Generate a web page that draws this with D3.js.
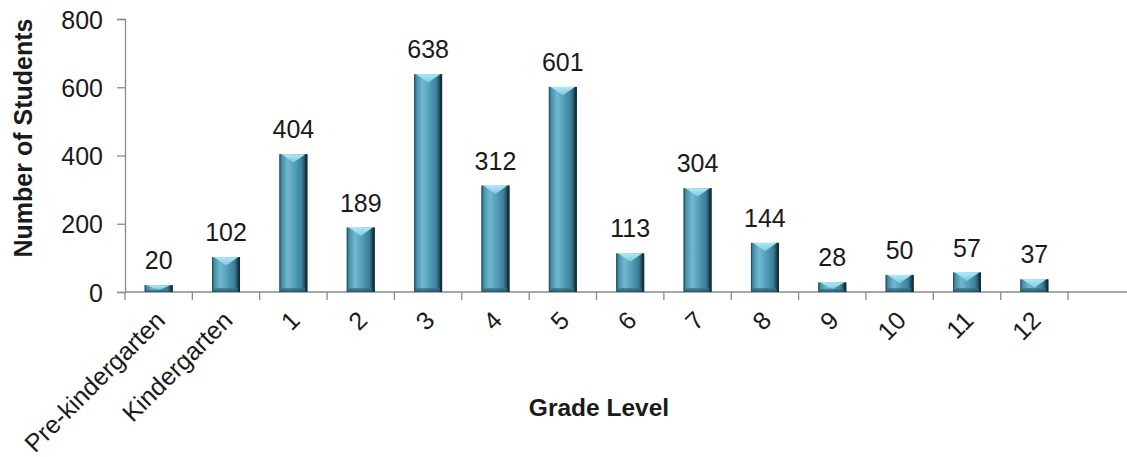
<!DOCTYPE html>
<html>
<head>
<meta charset="utf-8">
<script src="https://cdn.jsdelivr.net/npm/d3@7"></script>
<style>
  html, body { margin: 0; padding: 0; background: #fff; }
  svg { display: block; }
  text { font-family: "Liberation Sans", Arial, sans-serif; fill: #1a1a1a; }
</style>
</head>
<body>
<svg id="chart" width="1127" height="457"></svg>
<script>
const categories = ["Pre-kindergarten", "Kindergarten", "1", "2", "3", "4", "5", "6", "7", "8", "9", "10", "11", "12"];
const students = [20, 102, 404, 189, 638, 312, 601, 113, 304, 144, 28, 50, 57, 37];
const yTicks = [0, 200, 400, 600, 800];
const yTitle = "Number of Students";
const xTitle = "Grade Level";

const svg = d3.select("#chart");

const plotLeft = 125, step = 67.36, plotBottom = 292, plotTop = 19;
// an extra blank slot continues the axis to the right edge, as in the reference
const domain = categories.concat([""]);
const x = d3.scaleBand().domain(domain).range([plotLeft, plotLeft + step * domain.length]).padding(0);
const y = d3.scaleLinear().domain([0, 800]).range([plotBottom, plotTop]);
const barW = x.bandwidth() * 0.415;

const defs = svg.append("defs");
const g = defs.append("linearGradient").attr("id", "barGrad").attr("x1", "0").attr("x2", "1").attr("y1", "0").attr("y2", "0");
[[0, "#2a6276"], [0.1, "#4a93ac"], [0.3, "#72b9d0"], [0.55, "#529db8"], [0.8, "#3b7f98"], [0.9, "#244f60"], [1, "#163440"]]
  .forEach(([o, c]) => g.append("stop").attr("offset", o).attr("stop-color", c));
const gt = defs.append("linearGradient").attr("id", "topGrad").attr("x1", "0").attr("x2", "0").attr("y1", "0").attr("y2", "1");
gt.append("stop").attr("offset", 0).attr("stop-color", "#b5ecf8");
gt.append("stop").attr("offset", 1).attr("stop-color", "#7fcbe0");
const gb = defs.append("linearGradient").attr("id", "botGrad").attr("x1", "0").attr("x2", "0").attr("y1", "0").attr("y2", "1");
gb.append("stop").attr("offset", 0).attr("stop-color", "#3a7c93");
gb.append("stop").attr("offset", 1).attr("stop-color", "#1f4a59");

// y axis
const yAxis = d3.axisLeft(y).tickValues(yTicks).tickSize(8).tickPadding(14);
const ya = svg.append("g").attr("transform", `translate(${plotLeft},0)`).call(yAxis);
ya.select(".domain").attr("stroke", "#8a8a8a").attr("stroke-width", 1.3);
ya.selectAll(".tick line").attr("stroke", "#8a8a8a").attr("stroke-width", 1.3);
ya.selectAll(".tick text").attr("font-size", 25).attr("fill", "#1a1a1a")
  .style("font-family", '"Liberation Sans", Arial, sans-serif').attr("dy", "0.36em");

// x axis: line plus ticks at band boundaries
const xa = svg.append("g");
xa.append("line").attr("x1", plotLeft).attr("x2", x.range()[1]).attr("y1", y(0)).attr("y2", y(0))
  .attr("stroke", "#8a8a8a").attr("stroke-width", 1.3);
const boundaries = domain.map(d => x(d));
xa.selectAll("line.tk").data(boundaries).join("line").attr("class", "tk")
  .attr("x1", d => d).attr("x2", d => d).attr("y1", y(0)).attr("y2", y(0) + 8)
  .attr("stroke", "#8a8a8a").attr("stroke-width", 1.3);

// bars
const data = categories.map((c, i) => ({ c, v: students[i] }));
const bars = svg.append("g").selectAll("g.bar").data(data).join("g").attr("class", "bar");
bars.each(function(d) {
  const gg = d3.select(this);
  const x0 = x(d.c) + (x.bandwidth() - barW) / 2;
  const x1 = x0 + barW;
  const yT = y(d.v), yB = y(0);
  const h = yB - yT;
  gg.append("rect").attr("x", x0).attr("y", yT).attr("width", barW).attr("height", h).attr("fill", "url(#barGrad)");
  const bev = Math.min(6, h / 2);
  gg.append("polygon")
    .attr("points", `${x0 + 2},${yT} ${x1 - 2},${yT} ${(x0 + x1) / 2},${yT + bev * 1.4}`)
    .attr("fill", "url(#topGrad)").attr("opacity", 0.95);
  const bb = Math.min(4, h / 3);
  gg.append("polygon")
    .attr("points", `${x0 + 3},${yB - bb} ${x1 - 3},${yB - bb} ${x1},${yB} ${x0},${yB}`)
    .attr("fill", "url(#botGrad)").attr("opacity", 0.8);
  gg.append("rect").attr("x", x1 - 2).attr("y", yT).attr("width", 2).attr("height", h).attr("fill", "#13303b");
  gg.append("rect").attr("x", x0).attr("y", yT).attr("width", 1).attr("height", h).attr("fill", "#22566a");
});

// value labels
svg.append("g").selectAll("text").data(data).join("text")
  .attr("x", d => x(d.c) + x.bandwidth() / 2)
  .attr("y", d => y(d.v) - 16)
  .attr("text-anchor", "middle").attr("font-size", 25)
  .text(d => d.v);

// x tick labels rotated
svg.append("g").selectAll("text").data(categories).join("text")
  .attr("transform", d => `translate(${x(d) + x.bandwidth() / 2 + 8},${y(0) + 30}) rotate(-45)`)
  .attr("text-anchor", "end").attr("font-size", 25)
  .text(d => d);

// axis titles
svg.append("text").attr("transform", `translate(32,138) rotate(-90)`)
  .attr("text-anchor", "middle").attr("font-size", 25).attr("font-weight", "bold").text(yTitle);
svg.append("text").attr("x", 599).attr("y", 416)
  .attr("text-anchor", "middle").attr("font-size", 24.5).attr("font-weight", "bold").text(xTitle);
</script>
</body>
</html>
